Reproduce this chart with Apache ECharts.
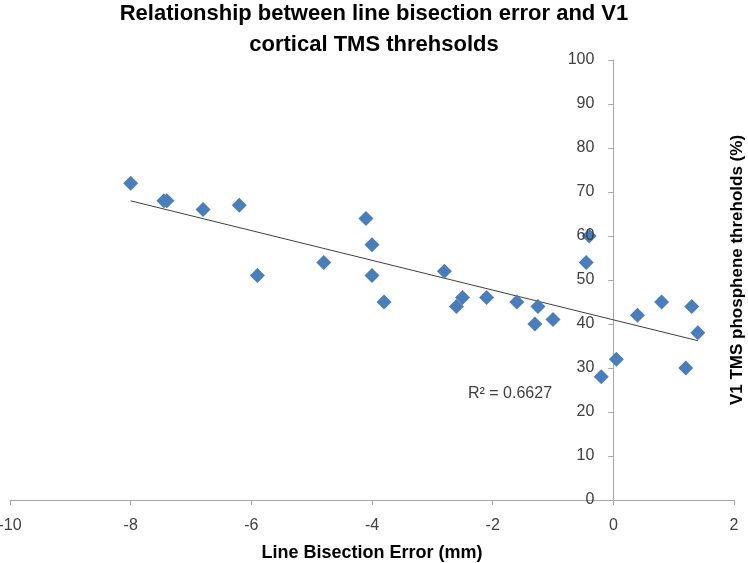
<!DOCTYPE html>
<html>
<head>
<meta charset="utf-8">
<script src="https://cdn.jsdelivr.net/npm/echarts@6/dist/echarts.min.js"></script>
<style>html,body{margin:0;padding:0;background:#fff}#c{width:748px;height:563px}</style>
</head>
<body>
<div id="c"></div>
<script>
// Line bisection error (mm)
var bisectionError = [-8.0, -7.45, -7.4, -6.8, -6.2, -5.9, -4.8, -4.1, -4.0, -4.0, -3.8, -2.8, -2.6, -2.5, -2.1, -1.6, -1.3, -1.25, -1.0, -0.4, -0.45, -0.2, 0.05, 0.4, 0.8, 1.3, 1.2, 1.4];
// V1 TMS phosphene thresholds (%)
var tmsThreshold  = [72, 68, 68, 66, 67, 51, 54, 64, 58, 51, 45, 52, 44, 46, 46, 45, 40, 44, 41, 60, 54, 28, 32, 42, 45, 44, 30, 38];
var xTicks = {min: -10, max: 2, interval: 2};
var yTicks = {min: 0, max: 100, interval: 10};
var titleText = 'Relationship between line bisection error and V1\ncortical TMS threhsolds';
var xName = 'Line Bisection Error (mm)';
var yName = 'V1 TMS phosphene threholds (%)';
var r2Text = 'R\u00b2 = 0.6627';

// linear least-squares trendline from the data
var n = bisectionError.length, sx = 0, sy = 0, sxx = 0, sxy = 0;
for (var i = 0; i < n; i++) { sx += bisectionError[i]; sy += tmsThreshold[i]; sxx += bisectionError[i]*bisectionError[i]; sxy += bisectionError[i]*tmsThreshold[i]; }
var slope = (n*sxy - sx*sy) / (n*sxx - sx*sx);
var icpt = (sy - slope*sx) / n;
var xMin = Math.min.apply(null, bisectionError), xMax = Math.max.apply(null, bisectionError);
var trend = [[xMin, icpt + slope*xMin], [xMax, icpt + slope*xMax]];
var points = bisectionError.map(function (x, i) { return [x, tmsThreshold[i]]; });

var FONT = 'Liberation Sans';
var W = 748, GL = 10, GR = 14;
// y axis crosses the x axis at x = 0
var yAxisOffset = -((W - GL - GR) * (0 - xTicks.min) / (xTicks.max - xTicks.min));

var chart = echarts.init(document.getElementById('c'));
chart.setOption({
  animation: false,
  backgroundColor: '#fff',
  title: {
    text: titleText, left: 'center', top: -7,
    textStyle: {fontFamily: FONT, fontSize: 22, fontWeight: 'bold', color: '#000', lineHeight: 31}
  },
  grid: {left: GL, right: GR, top: 60, bottom: 63, containLabel: false, outerBoundsMode: 'none'},
  xAxis: {
    type: 'value', min: xTicks.min, max: xTicks.max, interval: xTicks.interval,
    name: xName, nameLocation: 'middle', nameGap: 44,
    nameTextStyle: {fontFamily: FONT, fontSize: 18, fontWeight: 'bold', color: '#000'},
    axisLine: {lineStyle: {color: '#a6a6a6', width: 1}},
    axisTick: {show: true, length: 5, lineStyle: {color: '#a6a6a6'}},
    axisLabel: {fontFamily: FONT, fontSize: 16, color: '#404040', margin: 18},
    splitLine: {show: false}
  },
  yAxis: [{
    type: 'value', min: yTicks.min, max: yTicks.max, interval: yTicks.interval,
    offset: yAxisOffset, z: 0,
    name: yName, nameLocation: 'middle', nameGap: -132, nameRotate: 90,
    nameTextStyle: {fontFamily: FONT, fontSize: 17, fontWeight: 'bold', color: '#000', padding: [0, 0, 0, 20]},
    axisLine: {onZero: false, lineStyle: {color: '#a6a6a6', width: 1}},
    axisTick: {show: true, length: 5, lineStyle: {color: '#a6a6a6'}},
    axisLabel: {show: false},
    splitLine: {show: false}
  }, {
    // labels only, drawn above the markers
    type: 'value', min: yTicks.min, max: yTicks.max, interval: yTicks.interval,
    position: 'left', offset: yAxisOffset, z: 6,
    axisLine: {show: false, onZero: false},
    axisTick: {show: false},
    axisLabel: {fontFamily: FONT, fontSize: 16, color: '#404040', margin: 19},
    splitLine: {show: false}
  }],
  graphic: [{
    type: 'text', left: 468, top: 386,
    style: {text: r2Text, font: '16px "Liberation Sans"', fill: '#404040'}
  }],
  series: [{
    type: 'scatter', data: points, symbol: 'diamond', symbolSize: [15, 15],
    itemStyle: {color: '#4a7ebb', opacity: 1}, z: 3
  }, {
    type: 'line', data: trend, symbol: 'none', silent: true,
    lineStyle: {color: '#404040', width: 1}, z: 2
  }]
});
</script>
</body>
</html>
